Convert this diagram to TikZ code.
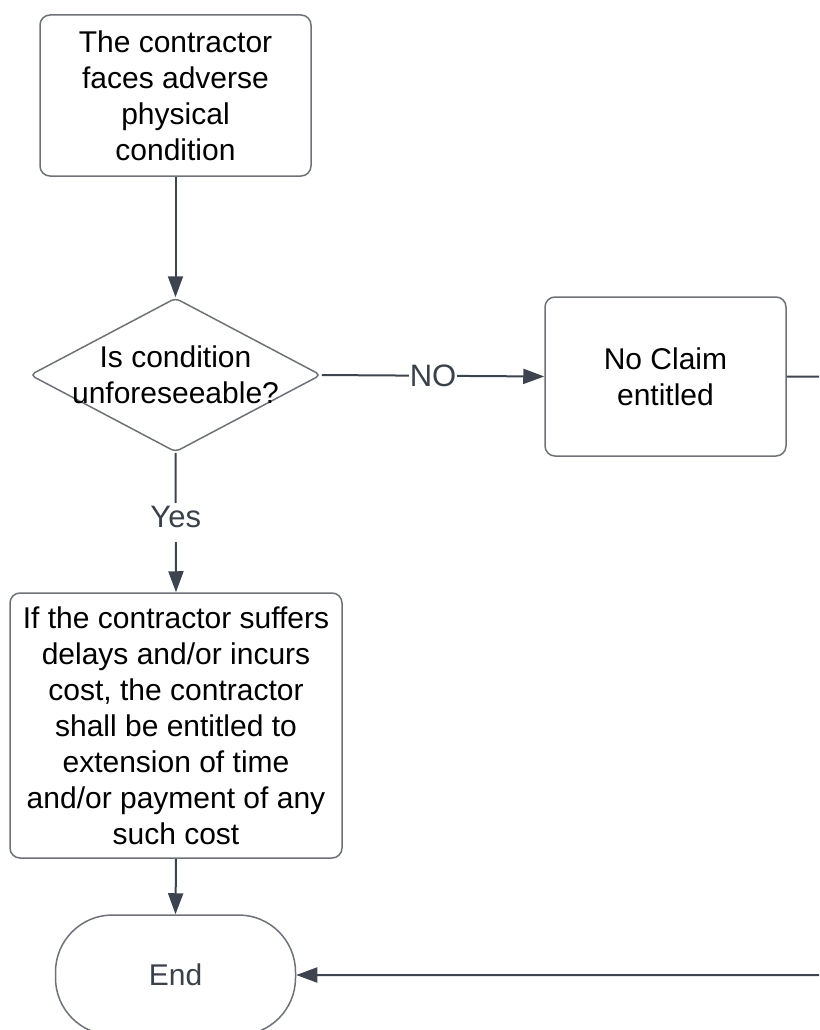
\documentclass[tikz,border=0pt]{standalone}
\usepackage{fontspec}
\setmainfont{Liberation Sans}
\usetikzlibrary{shapes.geometric,arrows.meta}
\definecolor{linec}{HTML}{3D4450}
\definecolor{boxc}{HTML}{6E7278}
\definecolor{labc}{HTML}{3A414A}
\begin{document}
\begin{tikzpicture}[x=1pt,y=-1pt,
  txt/.style={font=\fontsize{30}{36}\selectfont, align=center},
  box/.style={txt, draw=boxc, line width=1.5pt, rounded corners=10pt, inner sep=0pt},
  conn/.style={draw=linec, line width=2pt, -{Triangle[length=21pt,width=15pt]}},
  lab/.style={font=\fontsize{31}{36}\selectfont, text=labc, fill=white, inner xsep=1pt, inner ysep=2pt}]
\useasboundingbox (0,0) rectangle (819,1030);
\clip (0,0) rectangle (819,1030);

\node[box, minimum width=271pt, minimum height=161pt] (start) at (175.5,95.5)
  {The contractor\\faces adverse\\physical\\condition};
\node[diamond, draw=boxc, line width=1.5pt, minimum width=291pt, minimum height=154pt,
  inner sep=0pt, rounded corners=5pt] (dec) at (175.5,375) {};
\node[txt] (dectext) at (dec.center) {Is condition\\unforeseeable?};
\node[box, minimum width=241pt, minimum height=159pt] (noclaim) at (665.5,376.5)
  {No Claim\\entitled};
\node[box, minimum width=332pt, minimum height=265pt] (cost) at (176,725.5)
  {If the contractor suffers\\delays and/or incurs\\cost, the contractor\\shall be entitled to\\extension of time\\and/or payment of any\\such cost};
\node[txt, text=labc, draw=boxc, line width=1.5pt, rounded corners=57pt,
  minimum width=240pt, minimum height=120pt, inner sep=0pt] (end) at (175.5,975) {End};

\coordinate (rr) at (830,0);

\draw[conn] (start.south) -- (dec.north);
\draw[conn] (dec.east) -- node[lab] {NO} (noclaim.west);
\draw[conn] (dec.south) -- node[lab, pos=0.5, text height=21pt, text depth=12pt, inner ysep=3pt] {Yes} (cost.north);
\draw[conn] (cost.south) -- (end.north);
\draw[conn, rounded corners=10pt] (noclaim.east) -- (noclaim.east -| rr) -- (end.east -| rr) -- (end.east);
\end{tikzpicture}
\end{document}
